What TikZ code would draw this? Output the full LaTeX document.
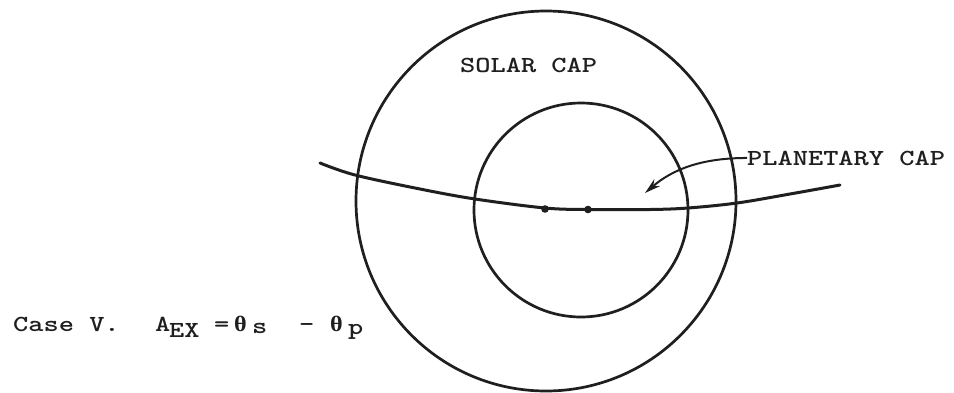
\documentclass[tikz,border=0pt]{standalone}
\usepackage{fontspec}
\usepackage{graphicx}
\usetikzlibrary{arrows.meta}
\newfontfamily\grkfont{Liberation Serif}
\newcommand\tw[1]{\scalebox{1.26}[1]{\ttfamily\bfseries\fontsize{23}{23}\selectfont #1}}
\newcommand\twg[1]{\scalebox{1.1}[1]{\grkfont\bfseries\fontsize{22}{22}\selectfont #1}}
\begin{document}
\begin{tikzpicture}[x=1pt,y=-1pt,
  lbl/.style={inner sep=0pt, anchor=base west, text=black!88},
  ring/.style={circle, draw=black!88, line width=2.7pt, inner sep=0pt},
  track/.style={draw=black!88, line width=3pt, line cap=round},
  pointer/.style={draw=black!88, line width=2pt, -{Stealth[length=16pt,width=9pt]}}]
\useasboundingbox (0,0) rectangle (954,392);
\fill[white] (0,0) rectangle (954,392);
% caps
\node[ring, minimum size=380pt] (solar) at (546,201) {};
\node[ring, minimum size=214pt] (planetary) at (581,210) {};
% track
\coordinate (t0) at (320,163);
\coordinate (t1) at (840,185);
\draw[track] plot[smooth, tension=0.55] coordinates {(320,163) (355,175) (420,189) (475,199) (545,208) (588,209.5) (650,209.5) (688,208) (737,203) (790,194) (840,185)};
\fill[black!88] (545,209) circle[radius=3.8];
\fill[black!88] (588,209.5) circle[radius=3.8];
% labels
\node[lbl] (solarlbl) at (460,72) {\tw{SOLAR CAP}};
\node[lbl] (planetlbl) at (747,165) {\tw{PLANETARY CAP}};
\coordinate (tip) at (645,193);
\draw[pointer] (planetlbl.west) .. controls (700,158) and (672,170) .. (tip);
% formula
\node[lbl] (case) at (13,331) {\tw{Case V.}};
\node[lbl] (aa) at (155,331) {\tw{A}};
\node[lbl] (ex) at (169,337) {\tw{EX}};
\node[lbl] (eq) at (214,331) {\tw{=}};
\node[lbl] (th1) at (234,331) {\twg{θ}};
\node[lbl] (ss) at (252,333) {\tw{s}};
\node[lbl] (mi) at (299,331) {\tw{-}};
\node[lbl] (th2) at (330,331) {\twg{θ}};
\node[lbl] (pp) at (348,334) {\tw{p}};
\end{tikzpicture}
\end{document}
